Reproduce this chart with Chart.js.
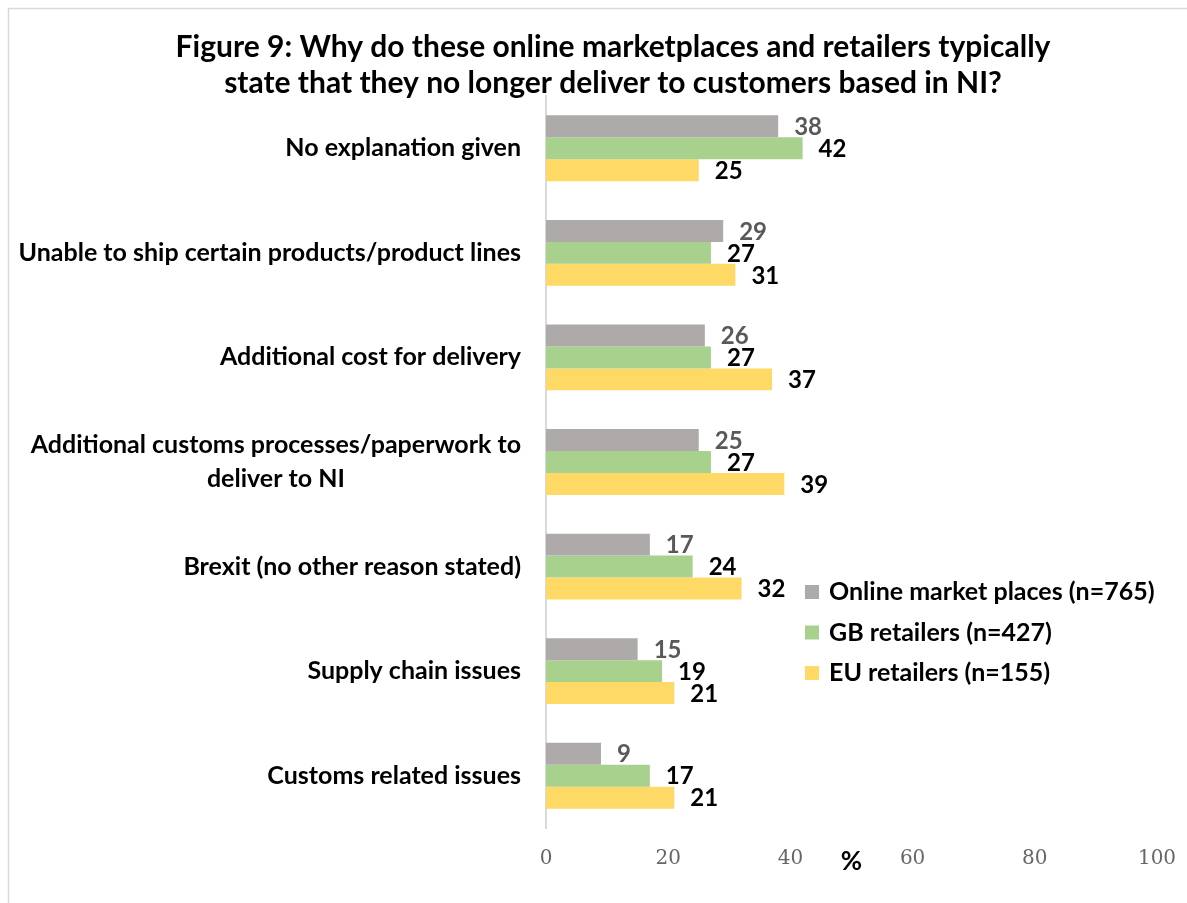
<!DOCTYPE html>
<html>
<head>
<meta charset="utf-8">
<script src="https://cdn.jsdelivr.net/npm/chart.js@4.4.0/dist/chart.umd.min.js"></script>
<style>
  html, body { margin: 0; padding: 0; background: #fff; }
  #wrap { width: 1187px; height: 903px; position: relative; }
</style>
</head>
<body>
<div id="wrap"><canvas id="chart"></canvas></div>
<script>
// reasons, top to bottom
const categories = [
  'No explanation given',
  'Unable to ship certain products/product lines',
  'Additional cost for delivery',
  ['Additional customs processes/paperwork to', 'deliver to NI'],
  'Brexit (no other reason stated)',
  'Supply chain issues',
  'Customs related issues'
];
const seriesNames = ['Online market places (n=765)', 'GB retailers (n=427)', 'EU retailers (n=155)'];
const onlineMarketplaces = [38, 29, 26, 25, 17, 15, 9];
const gbRetailers = [42, 27, 27, 27, 24, 19, 17];
const euRetailers = [25, 31, 37, 39, 32, 21, 21];
const xTicks = [0, 20, 40, 60, 80, 100];
const titleLines = [
  'Figure 9: Why do these online marketplaces and retailers typically',
  'state that they no longer deliver to customers based in NI?'
];

const barColors = ['#AEAAAA', '#A9D18E', '#FFD966'];
const valueColors = ['#595959', '#000000', '#000000'];
const boldFont = '"Lato", "Open Sans", sans-serif';

// white page, thin frame and the two-line heading
const framePlugin = {
  id: 'frame',
  beforeDraw(chart) {
    const ctx = chart.ctx;
    ctx.save();
    ctx.fillStyle = '#fff';
    ctx.fillRect(0, 0, chart.width, chart.height);
    ctx.strokeStyle = '#d9d9d9';
    ctx.lineWidth = 1.5;
    ctx.beginPath();
    ctx.moveTo(8.5, chart.height);
    ctx.lineTo(8.5, 8.5);
    ctx.lineTo(chart.width, 8.5);
    ctx.stroke();
    ctx.fillStyle = '#000';
    ctx.font = 'bold 30px ' + boldFont;
    ctx.textAlign = 'center';
    ctx.textBaseline = 'middle';
    titleLines.forEach((t, i) => ctx.fillText(t, 613, 47 + i * 36));
    ctx.restore();
  }
};

// category names, right aligned; wrapped lines are centred on each other
const categoryLabels = {
  id: 'categoryLabels',
  afterDraw(chart) {
    const ctx = chart.ctx;
    const y = chart.scales.y;
    const right = chart.chartArea.left - 25;
    ctx.save();
    ctx.font = 'bold 25px ' + boldFont;
    ctx.fillStyle = '#000';
    ctx.textBaseline = 'middle';
    ctx.textAlign = 'center';
    categories.forEach((c, i) => {
      const lines = Array.isArray(c) ? c : [c];
      const w = Math.max(...lines.map(l => ctx.measureText(l).width));
      const cy = y.getPixelForValue(i);
      const lh = 34;
      lines.forEach((l, j) => {
        ctx.fillText(l, right - w / 2, cy + (j - (lines.length - 1) / 2) * lh);
      });
    });
    ctx.restore();
  }
};

// value at the end of every bar
const valueLabels = {
  id: 'valueLabels',
  afterDatasetsDraw(chart) {
    const ctx = chart.ctx;
    ctx.save();
    ctx.font = 'bold 24px ' + boldFont;
    ctx.textAlign = 'left';
    ctx.textBaseline = 'middle';
    chart.data.datasets.forEach((ds, di) => {
      ctx.fillStyle = valueColors[di];
      chart.getDatasetMeta(di).data.forEach((bar, i) => {
        ctx.fillText(ds.data[i], bar.x + 16, bar.y + 1);
      });
    });
    ctx.restore();
  }
};

// legend inside the plot, plus the % unit under the axis
const sideLegend = {
  id: 'sideLegend',
  afterDraw(chart) {
    const ctx = chart.ctx;
    const x = chart.scales.x;
    ctx.save();
    ctx.font = 'bold 25px ' + boldFont;
    ctx.textBaseline = 'middle';
    ctx.textAlign = 'left';
    chart.data.datasets.forEach((ds, i) => {
      const ly = 592 + i * 40.5;
      ctx.fillStyle = ds.backgroundColor;
      ctx.fillRect(805, ly - 7, 14, 14);
      ctx.fillStyle = '#000';
      ctx.fillText(ds.label, 829, ly);
    });
    ctx.textAlign = 'center';
    ctx.font = 'bold 26px ' + boldFont;
    ctx.fillText('%', x.getPixelForValue(50), x.top + 34);
    ctx.restore();
  }
};

const seriesValues = [onlineMarketplaces, gbRetailers, euRetailers];

new Chart(document.getElementById('chart'), {
  type: 'bar',
  data: {
    labels: categories.map(c => Array.isArray(c) ? c.join(' ') : c),
    datasets: seriesNames.map((name, i) => ({
      label: name,
      data: seriesValues[i],
      backgroundColor: barColors[i],
      barPercentage: 1,
      categoryPercentage: 0.63
    }))
  },
  options: {
    indexAxis: 'y',
    responsive: true,
    maintainAspectRatio: false,
    animation: false,
    layout: { padding: { left: 69, right: 30, top: 96, bottom: 13 } },
    plugins: {
      legend: { display: false },
      title: { display: false },
      tooltip: { enabled: false }
    },
    scales: {
      x: {
        min: 0,
        max: 100,
        afterBuildTicks: s => { s.ticks = xTicks.map(v => ({ value: v })); },
        afterFit: s => { s.paddingLeft = 0; s.paddingRight = 0; },
        grid: { display: false, drawTicks: false },
        border: { display: false },
        ticks: {
          padding: 19,
          color: '#666666',
          font: { family: '"DejaVu Serif", "Liberation Serif", serif', size: 20 }
        }
      },
      y: {
        grid: { display: false, drawTicks: false },
        border: { display: true, color: '#d9d9d9', width: 2 },
        ticks: { display: false },
        afterFit: s => { s.width = 477; }
      }
    }
  },
  plugins: [framePlugin, categoryLabels, valueLabels, sideLegend]
});
</script>
</body>
</html>
